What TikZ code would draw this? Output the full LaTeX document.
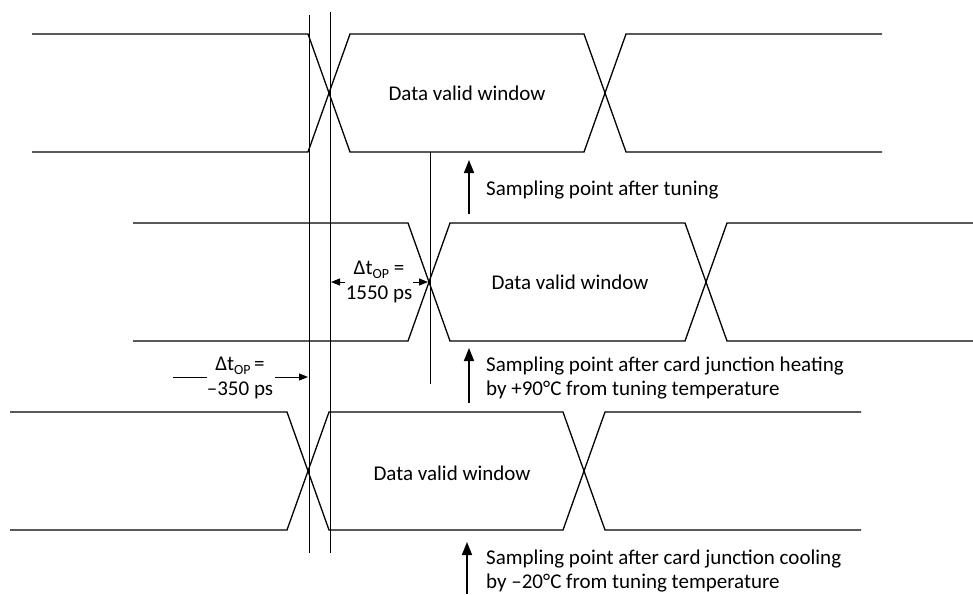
\documentclass[tikz,border=0pt]{standalone}
\usepackage{fontspec}
\setmainfont{Carlito}
\usetikzlibrary{arrows.meta}
\newcommand{\tOP}{Δt\raisebox{-0.35ex}{\fontsize{14}{14}\selectfont OP}}

\begin{document}
\begin{tikzpicture}[
  x=1pt, y=-1pt,
  wave/.style={line width=1.3pt, line join=miter},
  marker/.style={line width=0.8pt},
  label/.style={font=\fontsize{21}{24.5}\selectfont, align=center, inner sep=0pt},
  note/.style={font=\fontsize{21}{24.5}\selectfont, align=left, anchor=west, inner sep=0pt},
  sample/.style={-{Triangle[length=13pt, width=10pt]}, line width=1.6pt},
  dim/.style={-{Triangle[length=9pt, width=7pt]}, line width=1pt}
]
  \useasboundingbox (0,0) rectangle (973,594);

  \foreach \lft/\ta/\tb/\rgt/\hi/\lo in {32/308/584/882/34/152, 133/408/685/973/223/341, 10/287/563/861/412/530}{
    \draw[wave] (\lft,\hi) -- (\ta,\hi) -- (\ta+42,\lo) -- (\tb,\lo) -- (\tb+42,\hi) -- (\rgt,\hi);
    \draw[wave] (\lft,\lo) -- (\ta,\lo) -- (\ta+42,\hi) -- (\tb,\hi) -- (\tb+42,\lo) -- (\rgt,\lo);
  }

  \coordinate (cool top) at (309,15);
  \coordinate (cool bot) at (309,553);
  \coordinate (tune top) at (330,12);
  \coordinate (tune bot) at (330,553);
  \coordinate (heat top) at (430,152);
  \coordinate (heat bot) at (430,384);
  \draw[marker] (cool top) -- (cool bot);
  \draw[marker] (tune top) -- (tune bot);
  \draw[marker] (heat top) -- (heat bot);

  \node[label] (win1) at (467,93) {Data valid window};
  \node[label] (win2) at (570,282) {Data valid window};
  \node[label] (win3) at (452,473) {Data valid window};

  \coordinate (s1 tail) at (469,214);
  \coordinate (s1 head) at (469,160);
  \coordinate (s2 tail) at (469,403);
  \coordinate (s2 head) at (469,348);
  \coordinate (s3 tail) at (467,594);
  \coordinate (s3 head) at (467,542);
  \draw[sample] (s1 tail) -- (s1 head);
  \draw[sample] (s2 tail) -- (s2 head);
  \draw[sample] (s3 tail) -- (s3 head);

  \node[note] (tuned) at (486,190) {Sampling point after tuning};
  \node[note] (heated) at (486,378) {Sampling point after card junction heating\\by +90°C from tuning temperature};
  \node[note] (cooled) at (486,571) {Sampling point after card junction cooling\\by –20°C from tuning temperature};

  \node[label] (dt heat) at (379,282) {\tOP\ =\\1550 ps};
  \coordinate (dh l tail) at (345,282);
  \coordinate (dh l head) at (331,282);
  \coordinate (dh r tail) at (413,282);
  \coordinate (dh r head) at (428,282);
  \draw[dim] (dh l tail) -- (dh l head);
  \draw[dim] (dh r tail) -- (dh r head);

  \node[label] (dt cool) at (240,378) {\tOP\,=\\–350 ps};
  \coordinate (dc l end) at (173,377);
  \coordinate (dc l start) at (207,377);
  \coordinate (dc r tail) at (275,377);
  \coordinate (dc r head) at (308,377);
  \draw[line width=1pt] (dc l start) -- (dc l end);
  \draw[dim] (dc r tail) -- (dc r head);
\end{tikzpicture}
\end{document}
